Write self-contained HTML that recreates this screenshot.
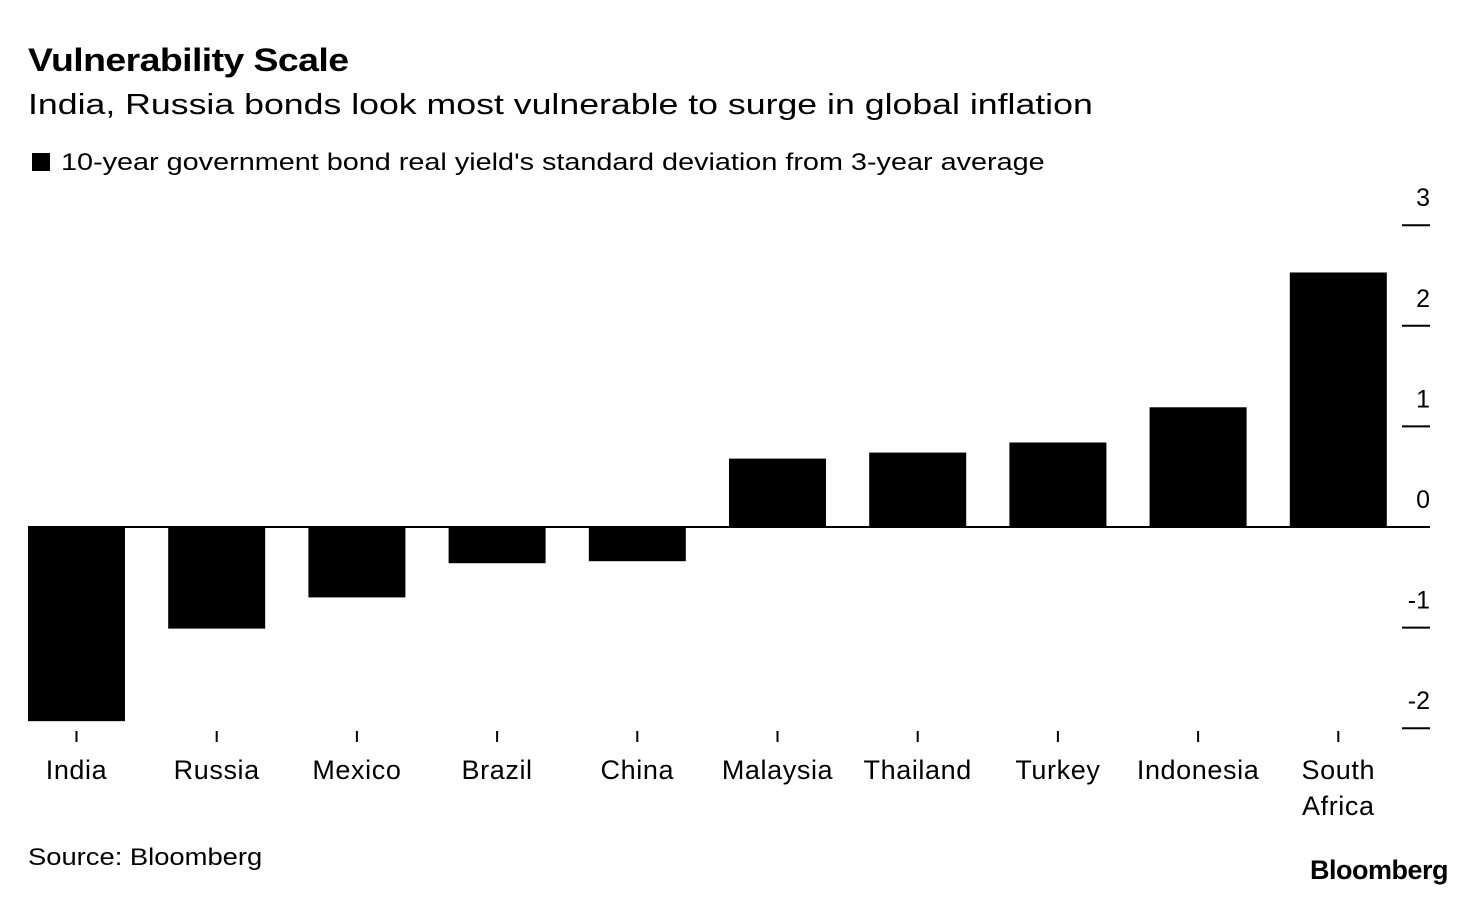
<!DOCTYPE html>
<html><head><meta charset="utf-8">
<style>
html,body{margin:0;padding:0;background:#fff;}
body{width:1476px;height:898px;overflow:hidden;position:relative;font-family:"Liberation Sans",sans-serif;color:#000;}
.t{position:absolute;white-space:nowrap;transform-origin:left top;}
</style></head>
<body>
<div class="t" style="left:28px;top:42px;font-size:32px;font-weight:bold;letter-spacing:-0.5px;transform:scaleX(1.17);">Vulnerability Scale</div>
<div class="t" style="left:28px;top:89px;font-size:29px;transform:scaleX(1.23);">India, Russia bonds look most vulnerable to surge in global inflation</div>
<div class="t" style="left:32px;top:149px;font-size:24px;"><span style="display:inline-block;width:18px;height:18px;background:#000;margin-right:11px;vertical-align:-1px;"></span><span style="display:inline-block;transform:scaleX(1.2);transform-origin:left center;">10-year government bond real yield's standard deviation from 3-year average</span></div>
<svg id="chart" width="1476" height="898" style="position:absolute;left:0;top:0;"></svg>
<div class="t" style="left:28px;top:844px;font-size:24px;transform:scaleX(1.14);">Source: Bloomberg</div>
<div class="t" style="right:28px;top:855px;font-size:27px;font-weight:bold;letter-spacing:-0.5px;">Bloomberg</div>
<script>
const categories = ["India","Russia","Mexico","Brazil","China","Malaysia","Thailand","Turkey","Indonesia","South Africa"];
const values = [-1.93,-1.01,-0.70,-0.36,-0.34,0.68,0.74,0.84,1.19,2.53];
const yTicks = [3,2,1,0,-1,-2];
const NS = "http://www.w3.org/2000/svg";
const svg = document.getElementById("chart");
const y0 = 527, unit = 100.6;
const y = v => y0 - v * unit;
const xStart = 28, step = 140.2, barW = 97;
const x = i => xStart + i * step;
function mk(tag, attrs){const e=document.createElementNS(NS,tag);for(const k in attrs)e.setAttribute(k,attrs[k]);svg.appendChild(e);return e;}
categories.forEach((c,i)=>{
  const v=values[i];
  const r=mk("rect",{x:x(i),y:Math.min(y(v),y0),width:barW,height:Math.abs(y(v)-y0),fill:"#000"});
  
  
  const cx=x(i)+barW/2;
  const tk=mk("line",{x1:cx,x2:cx,y1:731,y2:742,stroke:"#000","stroke-width":2});
  
  
  const parts=c.split(" ");
  parts.forEach((p,j)=>{
    const t=mk("text",{x:cx,y:779+j*36,"text-anchor":"middle","font-size":27,"letter-spacing":0.6,"font-family":"Liberation Sans, sans-serif"});
    t.textContent=p;
    
    
  });
});
yTicks.forEach(v=>{
  const l=mk("line",{x1:1402,x2:1430,y1:y(v),y2:y(v),stroke:"#000","stroke-width":2});
  
  
  const t=mk("text",{x:1430,y:y(v)-19,"text-anchor":"end","font-size":25,"font-family":"Liberation Sans, sans-serif"});
  t.textContent=v;
  
  
});
const zl=mk("line",{x1:28,x2:1430,y1:y0,y2:y0,stroke:"#000","stroke-width":2});


</script>
</body></html>
